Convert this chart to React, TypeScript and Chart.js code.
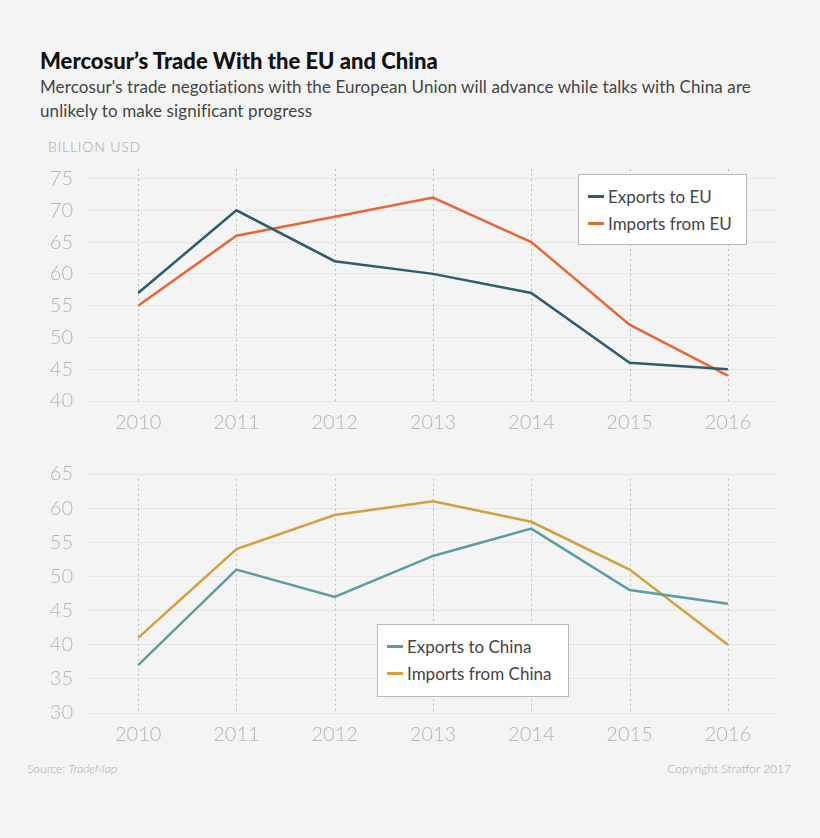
import React, { useEffect, useRef } from "react";
import { Chart, registerables } from "chart.js";

Chart.register(...registerables);

const years = ["2010", "2011", "2012", "2013", "2014", "2015", "2016"];
const exportsEU = [57, 70, 62, 60, 57, 46, 45];
const importsEU = [55, 66, 69, 72, 65, 52, 44];
const exportsChina = [37, 51, 47, 53, 57, 48, 46];
const importsChina = [41, 54, 59, 61, 58, 51, 40];
const yTicksTop = [40, 45, 50, 55, 60, 65, 70, 75];
const yTicksBottom = [30, 35, 40, 45, 50, 55, 60, 65];

const FONT = "Lato, 'Open Sans', sans-serif";

const vGridPlugin = {
  id: "vGrid",
  beforeDatasetsDraw(chart: any, _args: any, opts: any) {
    const { ctx, scales, chartArea } = chart;
    const x = scales.x;
    const y = scales.y;
    const top = y.getPixelForValue(opts.top);
    ctx.save();
    ctx.setLineDash([2, 3]);
    ctx.strokeStyle = "#bdbdbd";
    ctx.lineWidth = 1;
    x.ticks.forEach((_t: any, i: number) => {
      const px = Math.round(x.getPixelForTick(i)) + 0.5;
      ctx.beginPath();
      ctx.moveTo(px, top);
      ctx.lineTo(px, chartArea.bottom);
      ctx.stroke();
    });
    ctx.restore();
  },
};

type Series = { label: string; data: number[]; color: string };

function LineChart(props: {
  series: Series[];
  min: number;
  max: number;
  ticks: number[];
  vTop: number;
  padTop: number;
  xHeight: number;
  style: React.CSSProperties;
}) {
  const ref = useRef<HTMLCanvasElement>(null);
  useEffect(() => {
    const chart = new Chart(ref.current!, {
      type: "line",
      data: {
        labels: years,
        datasets: props.series.map((s) => ({
          label: s.label,
          data: s.data,
          borderColor: s.color,
          backgroundColor: s.color,
          borderWidth: 2.5,
          pointRadius: 0,
          tension: 0,
          fill: false,
        })),
      },
      options: {
        animation: false,
        responsive: false,
        maintainAspectRatio: false,
        layout: { padding: { top: props.padTop, right: 43, left: 0, bottom: 0 } },
        plugins: {
          legend: { display: false },
          tooltip: { enabled: false },
          vGrid: { top: props.vTop },
        } as any,
        scales: {
          x: {
            type: "category",
            offset: true,
            grid: { display: false },
            border: { display: false },
            ticks: {
              color: "#b5b5b5",
              font: { family: FONT, size: 20, weight: "300" as any },
              padding: 2,
              maxRotation: 0,
            },
            afterFit(scale: any) {
              scale.height = props.xHeight;
            },
          },
          y: {
            type: "linear",
            min: props.min,
            max: props.max,
            grid: { color: "#e6e6e6", lineWidth: 1, drawTicks: false },
            border: { display: false },
            ticks: {
              color: "#b5b5b5",
              font: { family: FONT, size: 20, weight: "300" as any },
              padding: 16,
            },
            afterBuildTicks(scale: any) {
              scale.ticks = props.ticks.map((v) => ({ value: v }));
            },
            afterFit(scale: any) {
              scale.width = 89;
            },
          },
        },
      },
      plugins: [vGridPlugin],
    });
    return () => chart.destroy();
  }, []);
  const w = 820;
  const h = props.style.height as number;
  return (
    <canvas
      ref={ref}
      width={w}
      height={h}
      style={{ position: "absolute", left: 0, width: w, height: h, ...props.style }}
    />
  );
}

function Legend(props: { items: Series[]; style: React.CSSProperties }) {
  return (
    <div
      style={{
        position: "absolute",
        background: "#ffffff",
        border: "1px solid #b9b9b9",
        boxSizing: "border-box",
        fontFamily: FONT,
        fontSize: 17,
        color: "#444",
        paddingLeft: 9,
        paddingTop: 8,
        ...props.style,
      }}
    >
      {props.items.map((it) => (
        <div key={it.label} style={{ display: "flex", alignItems: "center", height: 27 }}>
          <span
            style={{
              display: "inline-block",
              width: 16,
              height: 2.5,
              background: it.color,
              marginRight: 4,
            }}
          />
          <span>{it.label}</span>
        </div>
      ))}
    </div>
  );
}

export default function App() {
  const eu: Series[] = [
    { label: "Exports to EU", data: exportsEU, color: "#2e5d6b" },
    { label: "Imports from EU", data: importsEU, color: "#e5683a" },
  ];
  const cn: Series[] = [
    { label: "Exports to China", data: exportsChina, color: "#5b9ea1" },
    { label: "Imports from China", data: importsChina, color: "#d3a03f" },
  ];
  return (
    <div
      style={{
        position: "absolute",
        left: 0,
        top: 0,
        width: 820,
        height: 838,
        background: "#f4f4f4",
        overflow: "hidden",
        fontFamily: FONT,
      }}
    >
      <div
        style={{
          position: "absolute",
          left: 40,
          top: 47,
          fontSize: 22,
          fontWeight: 900,
          color: "#111",
          whiteSpace: "nowrap",
        }}
      >
        Mercosur’s Trade With the EU and China
      </div>
      <div
        style={{
          position: "absolute",
          left: 40,
          top: 75,
          width: 760,
          fontSize: 17,
          letterSpacing: 0.1,
          lineHeight: "24px",
          color: "#444",
        }}
      >
        Mercosur's trade negotiations with the European Union will advance while talks with China are
        <br />
        unlikely to make significant progress
      </div>
      <div
        style={{
          position: "absolute",
          left: 48,
          top: 138,
          fontSize: 14,
          fontWeight: 300,
          color: "#a8a8a8",
          letterSpacing: 0.8,
        }}
      >
        BILLION USD
      </div>
      <LineChart
        series={eu}
        min={40}
        max={76.5}
        ticks={yTicksTop}
        vTop={76.5}
        padTop={12}
        xHeight={39}
        style={{ top: 141, height: 299 }}
      />
      <LineChart
        series={cn}
        min={30}
        max={65}
        ticks={yTicksBottom}
        vTop={64.3}
        padTop={13}
        xHeight={47}
        style={{ top: 446, height: 314 }}
      />
      <Legend items={eu} style={{ left: 578, top: 174, width: 169, height: 71 }} />
      <Legend items={cn} style={{ left: 377, top: 624, width: 192, height: 73 }} />
      <div
        style={{
          position: "absolute",
          left: 27,
          top: 761,
          fontSize: 12,
          fontWeight: 300,
          color: "#aaa",
        }}
      >
        Source: <i>TradeMap</i>
      </div>
      <div
        style={{
          position: "absolute",
          right: 29,
          top: 761,
          fontSize: 12,
          fontWeight: 300,
          color: "#aaa",
        }}
      >
        Copyright Stratfor 2017
      </div>
    </div>
  );
}
